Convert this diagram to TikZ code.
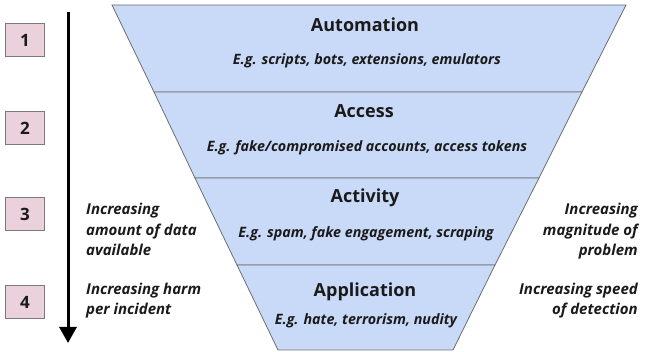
\documentclass[tikz,border=0pt]{standalone}
\usepackage{fontspec}
\setmainfont{Open Sans}
\usetikzlibrary{arrows.meta}
\definecolor{bandfill}{HTML}{C9DAF8}
\definecolor{bandline}{HTML}{6E6E6E}
\definecolor{boxfill}{HTML}{EAD1DC}
\definecolor{boxline}{HTML}{7A7A7A}
\definecolor{txt}{HTML}{1A1A1A}
\tikzset{
  band/.style={fill=bandfill,draw=bandline,line width=0.8pt},
  title/.style={font=\fontsize{18}{22}\selectfont\bfseries,text=txt,inner sep=0pt,anchor=base},
  sub/.style={font=\fontsize{14.3}{17}\selectfont\bfseries\itshape,text=txt,inner sep=0pt,anchor=base},
  side/.style={font=\fontsize{15}{20.5}\selectfont\bfseries\itshape,text=txt,inner sep=0pt},
  numbox/.style={fill=boxfill,draw=boxline,line width=0.8pt,minimum width=39pt,minimum height=33pt,inner sep=0pt,font=\fontsize{17}{20}\selectfont\bfseries,text=txt}
}
\begin{document}
\begin{tikzpicture}[x=1pt,y=-1pt]
\useasboundingbox (0,0) rectangle (645,352);
% funnel bands
\draw[band] (112,5) -- (626,5) -- (582,92) -- (154,92) -- cycle;
\draw[band] (154,92) -- (582,92) -- (539,178) -- (195,178) -- cycle;
\draw[band] (195,178) -- (539,178) -- (495,265) -- (237,265) -- cycle;
\draw[band] (237,265) -- (495,265) -- (453,350) -- (278,350) -- cycle;
% band texts
\node[title] (t1) at (365,32) {Automation};
\node[sub] (s1) at (367,65) {E.g. scripts, bots, extensions, emulators};
\node[title] (t2) at (364,118) {Access};
\node[sub] (s2) at (367,152) {E.g. fake/compromised accounts, access tokens};
\node[title] (t3) at (365,203) {Activity};
\node[sub] (s3) at (366,238) {E.g. spam, fake engagement, scraping};
\node[title] (t4) at (365,297) {Application};
\node[sub] (s4) at (366,325) {E.g. hate, terrorism, nudity};
% number boxes
\node[numbox] (b1) at (25,40) {1};
\node[numbox] (b2) at (25,128) {2};
\node[numbox] (b3) at (25,214) {3};
\node[numbox] (b4) at (25,302) {4};
% arrow
\coordinate (atop) at (68,12);
\coordinate (abot) at (68,343);
\draw[line width=3pt,-{Triangle[width=17pt,length=16pt]}] (atop) -- (abot);
% side texts
\node[side,anchor=north west,align=left] (l1) at (86,203) {Increasing\\amount of data\\available};
\node[side,anchor=north west,align=left] (l2) at (86,282.5) {Increasing harm\\per incident};
\node[side,anchor=north east,align=right] (r1) at (638,203) {Increasing\\magnitude of\\problem};
\node[side,anchor=north east,align=right] (r2) at (638,282.5) {Increasing speed\\of detection};
\end{tikzpicture}
\end{document}
